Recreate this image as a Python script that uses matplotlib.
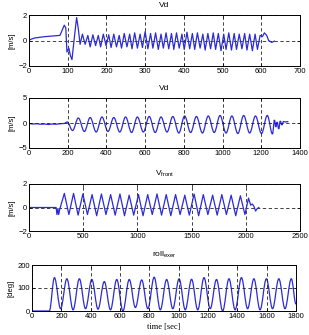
import numpy as np
import matplotlib
matplotlib.use("Agg")
import matplotlib.pyplot as plt
from matplotlib.path import Path
from matplotlib.patches import PathPatch

plt.rcParams.update({
    'font.family': 'Liberation Sans',
    'font.size': 5.5,
    'xtick.direction': 'in',
    'ytick.direction': 'in',
    'xtick.top': True,
    'ytick.right': True,
    'xtick.major.size': 2,
    'ytick.major.size': 2,
    'xtick.major.width': 0.5,
    'ytick.major.width': 0.5,
    'axes.linewidth': 0.7,
})

# ---------------- panel 1: Vd, 0..700 s ----------------
p1_lead_t = [0, 5, 15, 40, 80, 87, 91, 95, 98, 103, 107, 111, 117, 123, 127, 132]
p1_lead_v = [0, 0.1, 0.2, 0.3, 0.4, 0.9, 1.2, 1.0, -0.9, -0.6, -1.2, -1.5, 0.2, 1.8, 1.0, -0.3]
p1_peak_t = [138, 152, 165, 179, 192, 206, 219, 233, 246, 260, 273, 287, 300, 314, 327, 341, 354, 368,
             381, 395, 408, 422, 435, 449, 462, 476, 489, 503, 516, 530, 543, 557, 570, 584, 597]
p1_peak_v = [0.5, 0.4, 0.45, 0.4, 0.5, 0.45, 0.5, 0.4, 0.55, 0.5, 0.6, 0.5, 0.7, 0.55, 0.6, 0.5, 0.6, 0.55,
             0.6, 0.5, 0.65, 0.55, 0.6, 0.5, 0.55, 0.6, 0.55, 0.5, 0.6, 0.55, 0.5, 0.55, 0.5, 0.5, 0.4]
p1_trough_t = [145, 158, 172, 185, 199, 212, 226, 239, 253, 266, 280, 293, 307, 320, 334, 347, 361,
               374, 388, 401, 415, 428, 442, 455, 469, 482, 496, 509, 523, 536, 550, 563, 577, 590]
p1_trough_v = [-0.3, -0.5, -0.4, -0.5, -0.4, -0.55, -0.5, -0.6, -0.5, -0.65, -0.6, -0.55, -0.65, -0.6,
               -0.7, -0.6, -0.65, -0.7, -0.6, -0.7, -0.65, -0.7, -0.6, -0.75, -0.65, -0.7, -0.8, -0.7,
               -0.75, -0.7, -0.65, -0.75, -0.8, -0.7]
p1_tail_t = [603, 608, 614, 619, 627, 634]
p1_tail_v = [0.3, 0.6, 0.4, 0.0, -0.15, -0.05]

# ---------------- panel 2: Vd, 0..1400 s ----------------
p2_lead_t = [0, 20, 40, 60, 80, 100, 120, 140, 160, 180, 198]
p2_lead_v = [-0.1, -0.2, -0.15, -0.25, -0.2, -0.3, -0.2, -0.25, -0.15, -0.1, 0.2]
p2_peak_t = [255, 316, 377, 438, 499, 560, 621, 682, 743, 804, 865, 926, 987, 1048, 1109, 1170, 1231]
p2_peak_v = [1.0, 1.1, 1.2, 1.1, 1.2, 1.2, 1.3, 1.2, 1.3, 1.4, 1.3, 1.4, 1.5, 1.4, 1.5, 1.4, 1.5]
p2_trough_t = [225, 286, 347, 408, 469, 530, 591, 652, 713, 774, 835, 896, 957, 1018, 1079, 1140, 1201, 1258]
p2_trough_v = [-1.5, -1.7, -1.8, -1.7, -1.8, -1.9, -1.8, -1.9, -1.8, -2.0, -1.9, -2.0, -1.9, -2.0,
               -2.1, -2.0, -2.1, -2.2]
p2_tail_t = [1268, 1275, 1282, 1290, 1298, 1306, 1315, 1325, 1340]
p2_tail_v = [0.6, -0.8, 0.2, -1.2, 0.4, -0.4, 0.3, 0.2, 0.3]

# ---------------- panel 3: V_front, 0..2500 s ----------------
p3_lead_t = [0, 250, 258, 266, 274, 282]
p3_lead_v = [0, 0, -0.6, -0.1, -0.6, -0.2]
p3_peak_t = [326, 411, 497, 582, 668, 753, 839, 924, 1010, 1095, 1181, 1266, 1352, 1437, 1523,
             1608, 1694, 1779, 1865, 1950]
p3_peak_v = [1.2, 1.2, 1.15, 1.1, 1.15, 1.1, 1.15, 1.05, 1.1, 1.1, 1.15, 1.1, 1.1, 1.05, 1.15,
             1.1, 1.05, 1.1, 1.05, 1.0]
p3_trough_t = [368, 453, 539, 624, 710, 795, 881, 966, 1052, 1137, 1223, 1308, 1394, 1479, 1565,
               1650, 1736, 1821, 1907, 1992]
p3_trough_v = [-0.6, -0.65, -0.6, -0.7, -0.6, -0.65, -0.7, -0.65, -0.7, -0.6, -0.65, -0.7, -0.6,
               -0.65, -0.7, -0.6, -0.65, -0.6, -0.7, -0.6]
p3_tail_t = [2025, 2045, 2060, 2075, 2090, 2105, 2120]
p3_tail_v = [0.8, 0.2, 0.3, 0.1, -0.3, -0.1, 0.0]

# ---------------- panel 4: roll_exer, 0..1800 s ----------------
p4_lead_t = [0, 118]
p4_lead_v = [0, 0]
p4_peak_t = [153, 238, 323, 408, 493, 578, 663, 748, 833, 918, 1003, 1088, 1173, 1258, 1343,
             1428, 1513, 1598, 1683, 1768]
p4_peak_v = [145, 140, 140, 137, 128, 137, 137, 135, 147, 137, 140, 138, 145, 137, 140, 145,
             140, 140, 140, 140]
p4_trough_t = [195, 280, 365, 450, 535, 620, 705, 790, 875, 960, 1045, 1130, 1215, 1300, 1385,
               1470, 1555, 1640, 1725]
p4_trough_v = [10, 5, 10, 8, 5, 0, 15, 10, 5, 10, 5, 5, 10, 0, 5, 10, 5, 10, 10]
p4_tail_t = [1800]
p4_tail_v = [30]

LINE_COLOR = '#2b2bd6'


def build(lead_t, lead_v, pk_t, pk_v, tr_t, tr_v, tail_t, tail_v):
    t = np.concatenate([pk_t, tr_t])
    v = np.concatenate([pk_v, tr_v])
    order = np.argsort(t, kind='stable')
    return (np.concatenate([lead_t, t[order], tail_t]),
            np.concatenate([lead_v, v[order], tail_v]))


def smooth_path(t, v, k=0.364):
    # cubic bezier between successive extrema, flat tangent at each point
    verts = [(t[0], v[0])]
    codes = [Path.MOVETO]
    for i in range(1, len(t)):
        dt = t[i] - t[i - 1]
        verts += [(t[i - 1] + k * dt, v[i - 1]), (t[i] - k * dt, v[i]), (t[i], v[i])]
        codes += [Path.CURVE4] * 3
    return Path(verts, codes)


panels = [
    (build(p1_lead_t, p1_lead_v, p1_peak_t, p1_peak_v, p1_trough_t, p1_trough_v, p1_tail_t, p1_tail_v),
     False, r'Vd', '[m/s]', (0, 700), np.arange(0, 701, 100), (-2, 2), [-2, 0, 2],
     [29, 15, 300, 66]),
    (build(p2_lead_t, p2_lead_v, p2_peak_t, p2_peak_v, p2_trough_t, p2_trough_v, p2_tail_t, p2_tail_v),
     True, r'Vd', '[m/s]', (0, 1400), np.arange(0, 1401, 200), (-5, 5), [-5, 0, 5],
     [29, 98, 300, 148]),
    (build(p3_lead_t, p3_lead_v, p3_peak_t, p3_peak_v, p3_trough_t, p3_trough_v, p3_tail_t, p3_tail_v),
     False, r'V$_{\mathregular{front}}$', '[m/s]', (0, 2500), np.arange(0, 2501, 500), (-2, 2), [-2, 0, 2],
     [29, 184, 300, 231]),
    (build(p4_lead_t, p4_lead_v, p4_peak_t, p4_peak_v, p4_trough_t, p4_trough_v, p4_tail_t, p4_tail_v),
     True, r'roll$_{\mathregular{exer}}$', '[deg]', (0, 1800), np.arange(0, 1801, 200), (0, 200), [0, 100, 200],
     [32, 265, 296, 311]),
]

W, H = 309, 335
fig = plt.figure(figsize=(W / 100, H / 100), dpi=100)

for (t, v), smooth, title, ylab, xlim, xt, ylim, yt, (x0, y0, x1, y1) in panels:
    ax = fig.add_axes([x0 / W, 1 - y1 / H, (x1 - x0) / W, (y1 - y0) / H])
    if smooth:
        ax.add_patch(PathPatch(smooth_path(t, v), fill=False, edgecolor=LINE_COLOR, lw=0.9))
    else:
        ax.plot(t, v, color=LINE_COLOR, lw=0.9)
    ax.set_xlim(*xlim)
    ax.set_ylim(*ylim)
    ax.set_xticks(xt)
    ax.set_yticks(yt)
    ax.grid(True, color='#222222', linestyle=(0, (4, 3)), linewidth=0.6)
    ax.set_title(title, fontsize=6, pad=6)
    ax.set_ylabel(ylab, fontsize=5.5, labelpad=2)
    ax.tick_params(labelsize=5.5, pad=1.5)

ax.set_xlabel('time [sec]', fontfamily='Liberation Serif', fontsize=6, labelpad=2)

fig.savefig('out.png', dpi=100)
